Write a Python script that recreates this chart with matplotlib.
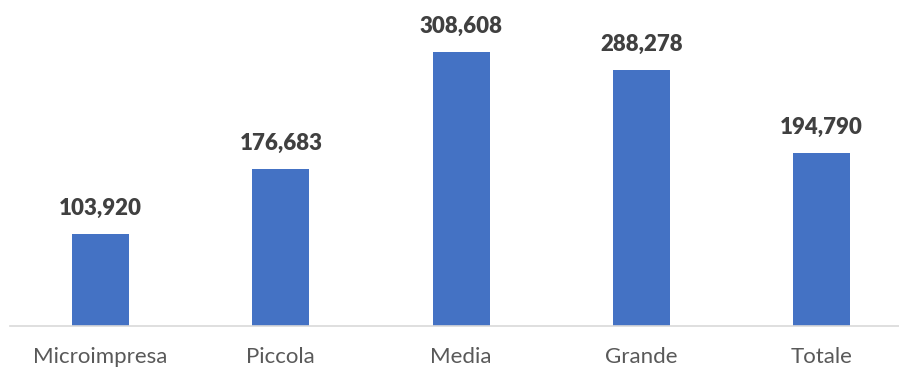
import matplotlib
matplotlib.use("Agg")
import matplotlib.pyplot as plt

categories = ["Microimpresa", "Piccola", "Media", "Grande", "Totale"]
values = [103920, 176683, 308608, 288278, 194790]

plt.rcParams["font.family"] = ["Lato", "DejaVu Sans"]

fig = plt.figure(figsize=(8.99, 3.67), dpi=100)
ax = fig.add_axes([10 / 899, (367 - 326) / 367, 889 / 899, 326 / 367])

x = list(range(len(categories)))
bars = ax.bar(x, values, width=0.317, color="#4472c4", zorder=2)

for xi, v in zip(x, values):
    ax.annotate(f"{v:,}", (xi, v), xytext=(0, 11), textcoords="offset points",
                ha="center", va="bottom", fontsize=16, fontweight="heavy",
                color="#404040")

ax.set_xlim(-0.503, 4.43)
ax.set_ylim(0, 308608 * 326 / 274)
ax.set_xticks(x)
ax.set_xticklabels(categories, fontsize=16, color="#595959")
ax.tick_params(axis="x", length=0, pad=15)
ax.set_yticks([])
for side in ["top", "left", "right"]:
    ax.spines[side].set_visible(False)
ax.spines["bottom"].set_color("#d9d9d9")
ax.spines["bottom"].set_linewidth(1.2)

fig.savefig("out.png", dpi=100)
